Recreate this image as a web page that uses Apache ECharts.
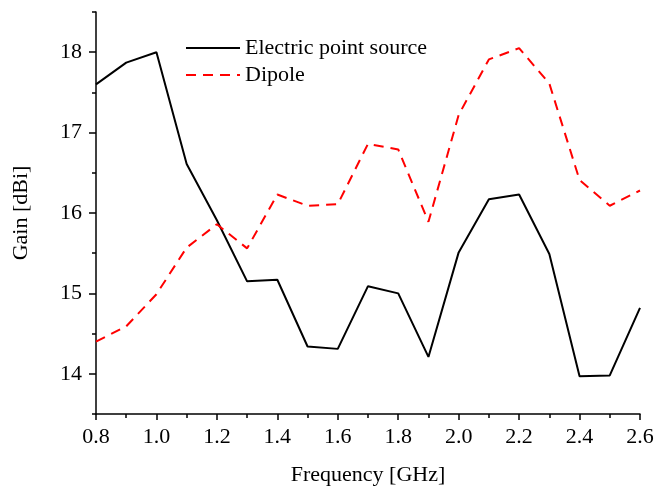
<!DOCTYPE html>
<html>
<head>
<meta charset="utf-8">
<script src="https://cdn.jsdelivr.net/npm/echarts@6/dist/echarts.min.js"></script>
<style>html,body{margin:0;padding:0;background:#fff;}#c{width:657px;height:491px;}</style>
</head>
<body>
<div id="c"></div>
<script>
var freq = [0.8, 0.9, 1.0, 1.1, 1.2, 1.3, 1.4, 1.5, 1.6, 1.7, 1.8, 1.9, 2.0, 2.1, 2.2, 2.3, 2.4, 2.5, 2.6];
var pointSource = [17.60, 17.87, 18.00, 16.61, 15.91, 15.15, 15.17, 14.34, 14.31, 15.09, 15.00, 14.21, 15.51, 16.17, 16.23, 15.49, 13.97, 13.98, 14.82];
var dipole = [14.40, 14.59, 14.99, 15.57, 15.86, 15.56, 16.23, 16.09, 16.11, 16.86, 16.79, 15.89, 17.22, 17.91, 18.05, 17.61, 16.41, 16.09, 16.28];
var yTicks = [14, 15, 16, 17, 18];
var seriesNames = ['Electric point source', 'Dipole'];

var FONT = 'Liberation Serif';
var chart = echarts.init(document.getElementById('c'), null, {renderer: 'canvas'});
function pairs(xs, ys) { return xs.map(function (x, i) { return [x, ys[i]]; }); }
chart.setOption({
  animation: false,
  backgroundColor: '#fff',
  grid: {left: 96, right: 17, top: 12, bottom: 77, containLabel: false},
  legend: {
    orient: 'vertical', left: 185, top: 37, padding: 0,
    itemWidth: 54, itemHeight: 22, itemGap: 5,
    itemStyle: {opacity: 0},
    lineStyle: {width: 2},
    textStyle: {fontFamily: FONT, fontSize: 22, color: '#000'},
    data: seriesNames
  },
  xAxis: {
    type: 'value', min: 0.8, max: 2.6, interval: 0.2,
    name: 'Frequency [GHz]', nameLocation: 'middle', nameGap: 50,
    nameTextStyle: {fontFamily: FONT, fontSize: 22, color: '#000'},
    axisLine: {show: true, onZero: false, lineStyle: {color: '#000', width: 1.5}},
    axisTick: {show: true, inside: false, length: 6, lineStyle: {color: '#000', width: 1.5}},
    minorTick: {show: true, splitNumber: 2, length: 4, lineStyle: {color: '#000', width: 1.5}},
    splitLine: {show: false},
    axisLabel: {fontFamily: FONT, fontSize: 22, color: '#000', margin: 12,
      formatter: function (v) { return v.toFixed(1); }}
  },
  yAxis: [{
    type: 'value', min: 13.5, max: 18.5,
    name: 'Gain [dBi]', nameLocation: 'middle', nameGap: 64, nameRotate: 90,
    nameTextStyle: {fontFamily: FONT, fontSize: 22, color: '#000'},
    axisLine: {show: true, onZero: false, lineStyle: {color: '#000', width: 1.5}},
    axisTick: {show: true, inside: false, length: 7, customValues: yTicks, lineStyle: {color: '#000', width: 1.5}},
    axisLabel: {fontFamily: FONT, fontSize: 22, color: '#000', margin: 14, customValues: yTicks},
    splitLine: {show: false}
  }, {
    type: 'value', min: 13.5, max: 18.5, interval: 0.5, position: 'left',
    axisLine: {show: false},
    axisTick: {show: true, inside: false, length: 4, lineStyle: {color: '#000', width: 1.5}},
    axisLabel: {show: false},
    splitLine: {show: false}
  }],
  series: [{
    name: seriesNames[0], type: 'line', yAxisIndex: 0, symbol: 'none',
    data: pairs(freq, pointSource),
    lineStyle: {color: '#000', width: 2},
    itemStyle: {color: '#000'}
  }, {
    name: seriesNames[1], type: 'line', yAxisIndex: 0, symbol: 'none',
    data: pairs(freq, dipole),
    lineStyle: {color: '#ff0000', width: 2, type: [10, 7]},
    itemStyle: {color: '#ff0000'}
  }]
});
</script>
</body>
</html>
